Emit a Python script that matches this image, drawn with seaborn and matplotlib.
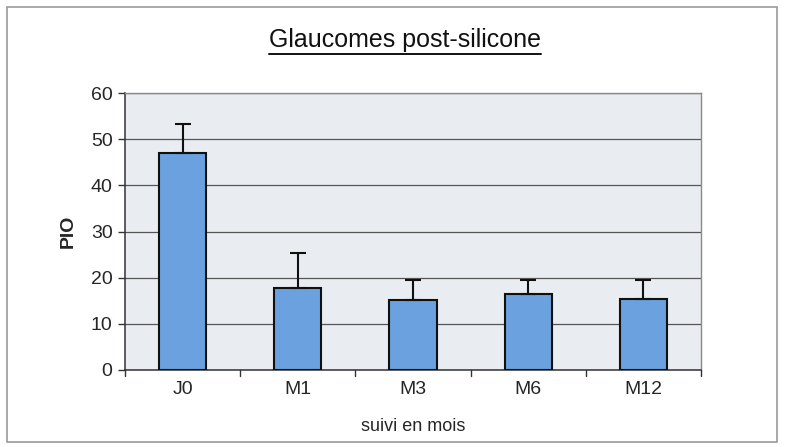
import matplotlib
matplotlib.use("Agg")
import matplotlib.pyplot as plt
import numpy as np
import pandas as pd
import seaborn as sns
from matplotlib.patches import Rectangle
from matplotlib.lines import Line2D

# valeurs
periodes = ["J0", "M1", "M3", "M6", "M12"]
pio_moyenne = [47.0, 17.8, 15.2, 16.4, 15.3]
pio_ecart = [6.3, 7.5, 4.4, 3.2, 4.3]
yticks = [0, 10, 20, 30, 40, 50, 60]

df = pd.DataFrame({"periode": periodes, "pio": pio_moyenne, "ecart": pio_ecart})

sns.set_theme(style="white")
plt.rcParams["font.family"] = ["Liberation Sans", "DejaVu Sans"]

fig = plt.figure(figsize=(7.91, 4.47), dpi=100)
ax = fig.add_axes([125 / 791, 77 / 447, 576 / 791, 277 / 447])
ax.set_facecolor("#e9edf2")

sns.barplot(data=df, x="periode", y="pio", color="#6aa1de", width=0.41,
            edgecolor="#101010", linewidth=1.5, saturation=1, ax=ax, zorder=3)

# barres d'erreur (seulement vers le haut)
x = np.arange(len(periodes))
ax.errorbar(x, df["pio"], yerr=[np.zeros(len(x)), df["ecart"]], fmt="none",
            ecolor="#101010", elinewidth=1.5, capsize=6, capthick=1.5, zorder=4)

ax.set_ylim(0, 60)
ax.set_xlim(-0.5, len(periodes) - 0.5)
ax.set_yticks(yticks)
ax.set_yticklabels([str(t) for t in yticks], fontsize=14)
ax.yaxis.grid(True, color="#555555", linewidth=0.9, zorder=1)
ax.set_axisbelow(True)

ax.set_xticks(x)
ax.set_xticklabels(periodes, fontsize=14)
ax.tick_params(axis="x", length=0, pad=8)
ax.tick_params(axis="y", length=5, width=1, direction="out", color="#333333", left=True, pad=4)
# petits traits entre categories (style tableur)
for b in np.arange(-0.5, len(periodes) + 0.5, 1):
    ax.plot([b, b], [0, -1.2], color="#333333", lw=1, clip_on=False, zorder=5)

ax.set_xlabel("suivi en mois", fontsize=13, labelpad=14)
ax.set_ylabel("PIO", fontsize=14, fontweight="bold", labelpad=10)

for side in ["left", "bottom"]:
    ax.spines[side].set_color("#333333")
    ax.spines[side].set_linewidth(1.1)
for side in ["top", "right"]:
    ax.spines[side].set_color("#8a8a8a")
    ax.spines[side].set_linewidth(1)

titre = fig.text(0.512, 0.91, "Glaucomes post-silicone", ha="center", va="center",
                 fontsize=18, color="#111111")

# soulignement du titre
fig.canvas.draw()
bb = titre.get_window_extent().transformed(fig.transFigure.inverted())
fig.add_artist(Line2D([bb.x0, bb.x1], [bb.y0 - 0.004, bb.y0 - 0.004],
                      transform=fig.transFigure, color="#111111", lw=1.4))

# cadre exterieur
fig.add_artist(Rectangle((7 / 791, 5 / 447), 770 / 791, 435 / 447, transform=fig.transFigure,
                         fill=False, edgecolor="#9a9a9a", linewidth=1.2))

fig.savefig("out.png", dpi=100)
